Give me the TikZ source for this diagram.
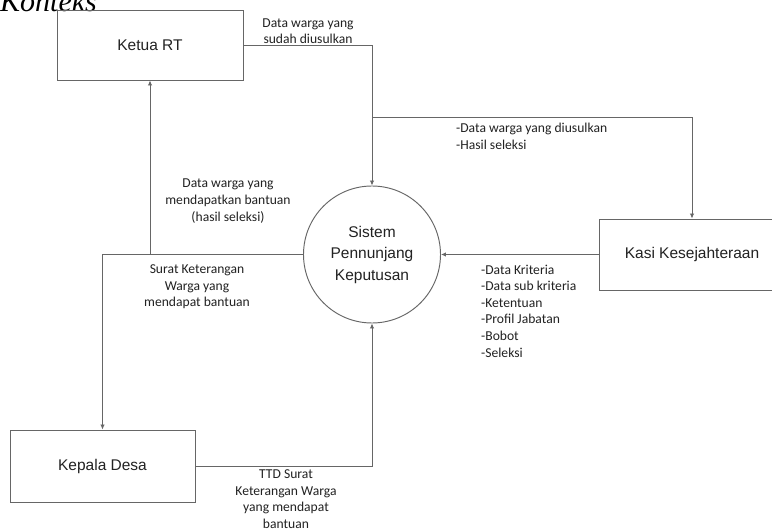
\documentclass[tikz,border=0pt]{standalone}
\usepackage{fontspec}
\setmainfont{Liberation Sans}
\newfontfamily\lblfont{Carlito}
\newfontfamily\ttlfont{Liberation Serif}
\usetikzlibrary{arrows.meta}
\definecolor{ln}{HTML}{666666}
\definecolor{tx}{HTML}{222222}
\begin{document}
\begin{tikzpicture}[x=1pt,y=-1pt,
  box/.style={draw=ln, line width=0.95pt, minimum width=186pt, minimum height=70pt, inner sep=0pt, font=\fontsize{15.5}{18}\selectfont, text=tx},
  flow/.style={draw=ln, line width=0.9pt, -{Latex[length=5pt,width=4.5pt]}},
  lab/.style={font=\lblfont\fontsize{13.6}{16.6}\selectfont, text=tx, inner sep=0pt, align=center}]
\useasboundingbox (0,0) rectangle (772,532);
\fill[white] (0,0) rectangle (772,532);

\node[anchor=base west, font=\ttlfont\itshape\fontsize{30}{30}\selectfont, inner sep=0pt, text=black] (title) at (0,12) {Konteks};

\node[box] (rt) at (150,45) {Ketua RT};
\node[box, minimum width=186pt, minimum height=71pt] (kasi) at (692,254.5) {Kasi Kesejahteraan};
\node[box, minimum width=185pt, minimum height=72pt] (kd) at (102.5,466) {Kepala Desa};
\node[circle, draw=ln, line width=0.95pt, minimum size=137pt, inner sep=0pt, align=center, font=\fontsize{15.5}{21.5}\selectfont, text=tx] (sys) at (372,254.5) {Sistem\\Pennunjang\\Keputusan};

\draw[flow] (rt.east) -| (sys.north);
\coordinate (j1) at (sys.north |- 0,117);
\draw[flow] (j1) -| (kasi.north);
\draw[flow] (kasi.west) -- (sys.east);
\draw[flow] (sys.west) -| (kd.north);
\coordinate (j2) at (rt.south |- sys.west);
\draw[flow] (j2) -- (rt.south);
\draw[flow] (kd.east) -| (sys.south);

\node[lab] (l1) at (308,31) {Data warga yang\\sudah diusulkan};
\node[lab, align=left, anchor=west] (l2) at (456,136.5) {-Data warga yang diusulkan\\-Hasil seleksi};
\node[lab] (l3) at (228,201) {Data warga yang\\mendapatkan bantuan\\(hasil seleksi)};
\node[lab] (l4) at (197,287) {Surat Keterangan\\Warga yang\\mendapat bantuan};
\node[lab, align=left, anchor=west] (l5) at (481,311) {-Data Kriteria\\-Data sub kriteria\\-Ketentuan\\-Profil Jabatan\\-Bobot\\-Seleksi};
\node[lab] (l6) at (286,499) {TTD Surat\\Keterangan Warga\\yang mendapat\\bantuan};
\end{tikzpicture}
\end{document}
